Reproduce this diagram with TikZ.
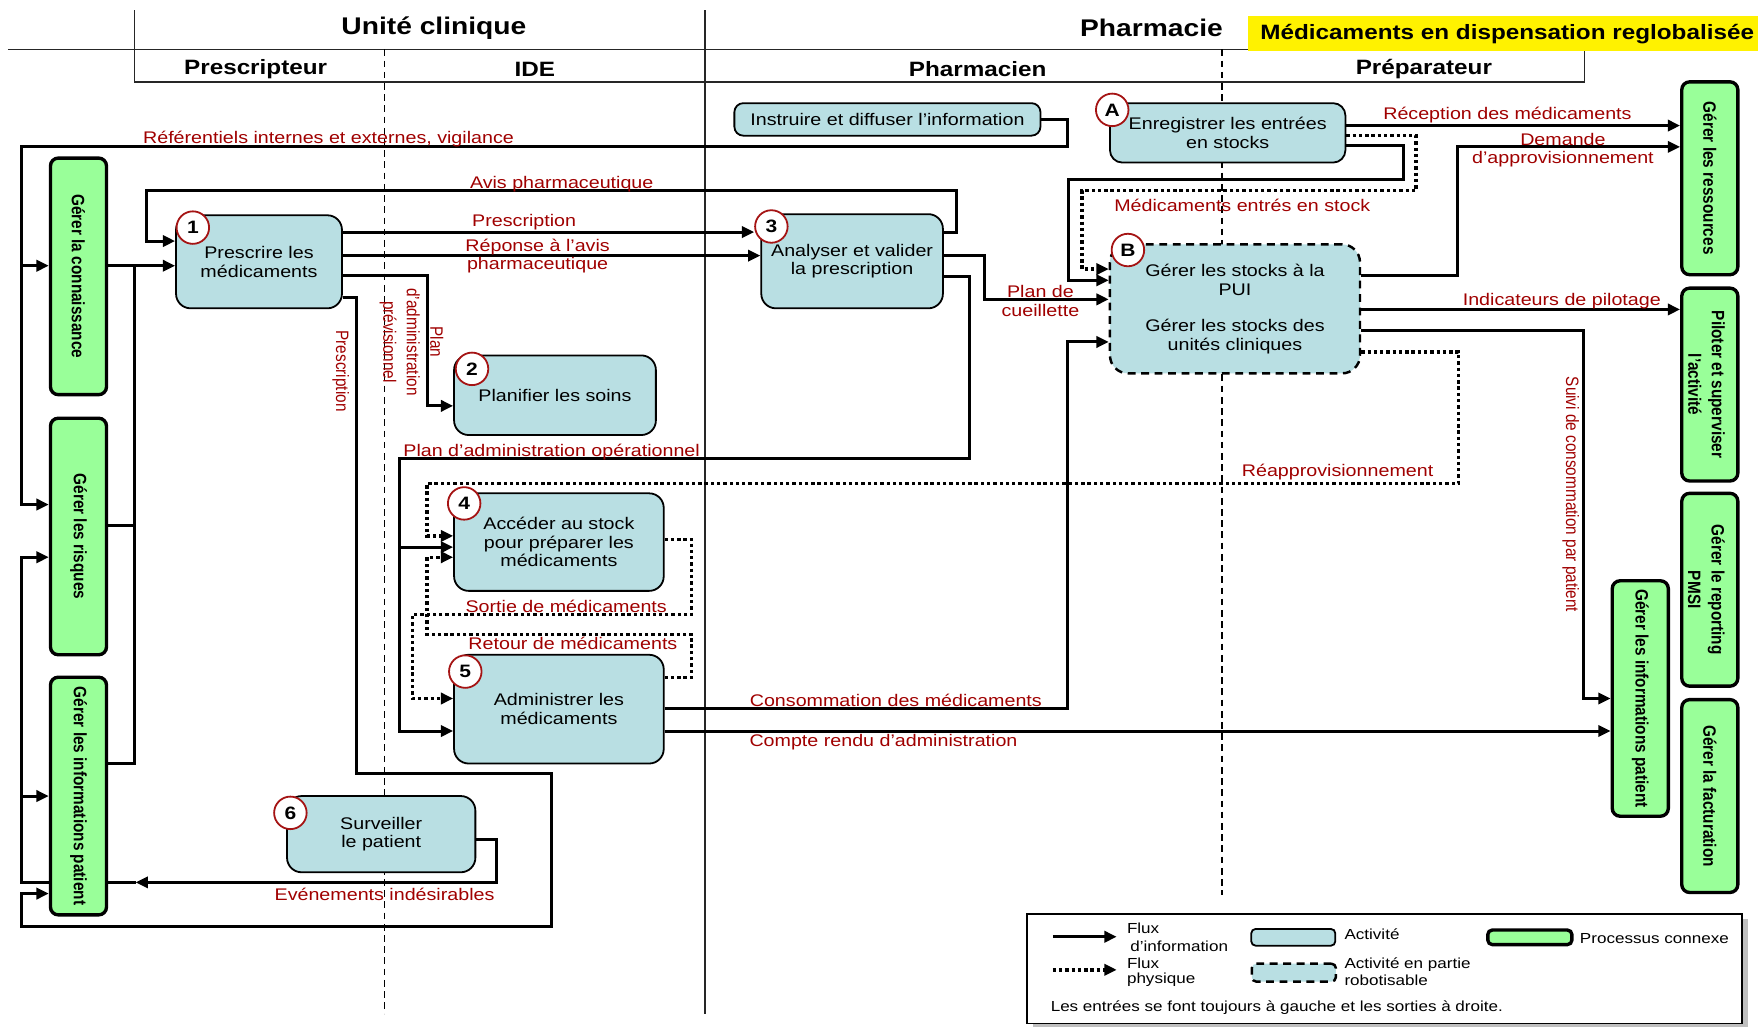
\documentclass[tikz,border=0pt]{standalone}
\usepackage{fontspec}
\setmainfont{Liberation Sans}[FakeStretch=1.17]
\newfontfamily\rotfont{Liberation Sans}[FakeStretch=0.855]
\usetikzlibrary{arrows.meta,backgrounds}

\definecolor{actfill}{RGB}{185,223,227}
\definecolor{procfill}{RGB}{153,255,153}
\definecolor{flowred}{RGB}{160,0,0}
\definecolor{numred}{RGB}{165,20,20}

\tikzset{
  hdr/.style={inner sep=0pt, font=\bfseries\fontsize{21.5}{24}\selectfont},
  subhdr/.style={inner sep=0pt, font=\bfseries\fontsize{18.5}{20}\selectfont},
  sep/.style={line width=1.3pt, black!85},
  lane/.style={line width=1.1pt, dash pattern=on 6pt off 4pt},
  act/.style={draw=black, line width=1.6pt, fill=actfill, rounded corners=13pt,
    inner sep=0pt, align=center, font=\fontsize{15}{16.5}\selectfont},
  robot/.style={act, line width=2.2pt, dash pattern=on 7pt off 5pt},
  proc/.style={draw=black, line width=3pt, fill=procfill, rounded corners=7pt,
    inner sep=0pt, minimum width=50pt},
  proctext/.style={rotate=-90, inner sep=0pt, align=center,
    font=\rotfont\bfseries\fontsize{16}{21}\selectfont},
  num/.style={circle, draw=numred, line width=1.6pt, fill=white, minimum size=29pt,
    inner sep=0pt, font=\bfseries\fontsize{16}{16}\selectfont},
  flowlbl/.style={text=flowred, inner sep=0pt, align=center,
    font=\fontsize{15}{16.5}\selectfont},
  rotlbl/.style={text=flowred, inner sep=0pt, rotate=-90, align=center,
    font=\rotfont\fontsize{16}{21}\selectfont},
  legtxt/.style={inner sep=0pt, anchor=west, font=\fontsize{13}{14}\selectfont},
  info/.style={line width=2.7pt, -{Triangle[length=11pt,width=10pt]}},
  infoline/.style={line width=2.7pt},
  phys/.style={info, line width=3pt, dash pattern=on 3pt off 2.6pt},
}

\begin{document}
\begin{tikzpicture}[x=1pt,y=-1pt]
\useasboundingbox (0,0) rectangle (1568,916);

% ---------- headers ----------
\node[hdr] (hUC) at (387,25) {Unité clinique};
\node[hdr] (hPh) at (1027,25) {Pharmacie};
\node[fill=yellow, anchor=north west, minimum width=455pt, minimum height=31pt, inner sep=0pt] (ttlbox) at (1113,14) {};
\node[anchor=west, inner sep=0pt, font=\bfseries\fontsize{18.5}{20}\selectfont] (ttl) at (1124,30) {Médicaments en dispensation reglobalisée};
\node[subhdr] (sPr) at (228,61.5) {Prescripteur};
\node[subhdr] (sIDE) at (477,61.5) {IDE};
\node[subhdr] (sPh) at (872,61.5) {Pharmacien};
\node[subhdr] (sPp) at (1270,61.5) {Préparateur};

% ---------- activities ----------
\node[act, minimum width=148pt, minimum height=83pt] (p1) at (231,233.5) {Prescrire les\\médicaments};
\node[act, minimum width=180pt, minimum height=71pt] (p2) at (495,352.5) {Planifier les soins};
\node[act, minimum width=162pt, minimum height=84pt] (p3) at (760,233) {Analyser et valider\\la prescription};
\node[act, minimum width=187pt, minimum height=87pt] (p4) at (498.5,483.5) {Accéder au stock\\pour préparer les\\médicaments};
\node[act, minimum width=187pt, minimum height=97pt] (p5) at (498.5,632.5) {Administrer les\\médicaments};
\node[act, minimum width=168pt, minimum height=68pt] (p6) at (340,744) {Surveiller\\le patient};
\node[act, minimum width=273pt, minimum height=29pt, rounded corners=8pt] (pI) at (791.5,106.5) {Instruire et diffuser l’information};
\node[act, minimum width=210pt, minimum height=53pt, rounded corners=11pt] (pA) at (1095,118.5) {Enregistrer les entrées\\en stocks};
\node[robot, minimum width=223pt, minimum height=115pt, rounded corners=16pt] (pB) at (1101.5,275.5) {Gérer les stocks à la\\PUI\\[16pt]Gérer les stocks des\\unités cliniques};

\node[num] (c1) at (172,203) {1};
\node[num] (c2) at (421,329) {2};
\node[num] (c3) at (688,202) {3};
\node[num] (c4) at (414,449) {4};
\node[num] (c5) at (415,599) {5};
\node[num] (c6) at (259,725) {6};
\node[num] (cA) at (992,98) {A};
\node[num] (cB) at (1006,223) {B};

% ---------- related processes ----------
\node[proc, minimum height=211pt] (gC) at (70,246.5) {};
\node[proctext] (tgC) at (gC) {Gérer la connaissance};
\node[proc, minimum height=211pt] (gR) at (70,478.5) {};
\node[proctext] (tgR) at (gR) {Gérer les risques};
\node[proc, minimum height=212pt] (gP) at (70,710) {};
\node[proctext] (tgP) at (gP) {Gérer les informations patient};

\node[proc, minimum height=172pt] (rRes) at (1525,159) {};
\node[proctext] (trRes) at (rRes) {Gérer les ressources};
\node[proc, minimum height=172pt] (rPil) at (1525,343) {};
\node[proctext] (trPil) at ([xshift=-3pt]rPil.center) {Piloter et superviser\\l’activité};
\node[proc, minimum height=172pt] (rPMSI) at (1525,526) {};
\node[proctext] (trPMSI) at ([xshift=-3pt]rPMSI.center) {Gérer le reporting\\PMSI};
\node[proc, minimum height=172pt] (rFact) at (1525,710) {};
\node[proctext] (trFact) at (rFact) {Gérer la facturation};
\node[proc, minimum height=210pt] (rInfo) at (1463,623) {};
\node[proctext] (trInfo) at (rInfo) {Gérer les informations patient};

% ---------- junction points ----------
\coordinate (trunkC) at (19,237);
\coordinate (opBr) at (356,488);
\coordinate (evBr) at (19,710);
\coordinate (evTip) at (121,787);

% ---------- lanes and flows (behind the boxes) ----------
\begin{scope}[on background layer]
  \fill[white] (0,0) rectangle (1568,916);
  \draw[sep] (7,44) -- (1568,44);
  \draw[sep] (120,9) -- (120,73) -- (1413,73) -- (1413,44);
  \draw[sep] (629,9) -- (629,904);
  \draw[lane] (343,44) -- (343,904);
  \draw[lane] (1090,44) -- (1090,798);

  % references and vigilance
  \draw[info] (pI.east |- 0,107) -- (952,107) -- (952,131) -- (19,131) -- (19,450) -- (gR.west |- 0,450);
  \draw[info] (trunkC) -- (gC.west |- 0,237);
  % related processes feeding the prescription
  \draw[info] (gC.east |- 0,237) -- (p1.west |- 0,237);
  \draw[infoline] (gR.east |- 0,469) -- (120,469) -- (120,237);
  \draw[infoline] (gP.east |- 0,681) -- (120,681) -- (120,469);
  % prescriber / pharmacist exchanges
  \draw[info] (p3.east |- 0,207) -- (853,207) -- (853,170) -- (131,170) -- (131,215) -- (p1.west |- 0,215);
  \draw[info] (p1.east |- 0,207) -- (c3.west |- 0,207);
  \draw[info] (p1.east |- 0,228) -- (p3.west |- 0,228);
  \draw[info] (p1.east |- 0,246) -- (381,246) -- (381,362) -- (p2.west |- 0,362);
  \draw[info] (p1.east |- 0,265) -- (318,265) -- (318,690) -- (492,690) -- (492,826) -- (19,826) -- (19,797) -- (gP.west |- 0,797);
  % operational administration plan
  \draw[info] (p3.east |- 0,247) -- (865,247) -- (865,409) -- (356,409) -- (356,652) -- (p5.west |- 0,652);
  \draw[info] (opBr) -- (p4.west |- 0,488);
  \draw[info] (p3.east |- 0,228) -- (878,228) -- (878,267) -- (pB.west |- 0,267);
  % administration outputs
  \draw[info] (p5.east |- 0,632) -- (952,632) -- (952,305) -- (pB.west |- 0,305);
  \draw[info] (p5.east |- 0,652) -- (rInfo.west |- 0,652);
  % stock entries
  \draw[info] (pA.east |- 0,112) -- (rRes.west |- 0,112);
  \draw[info] (pA.east |- 0,130) -- (1252,130) -- (1252,160) -- (953,160) -- (953,250) -- (pB.west |- 0,250);
  \draw[phys] (pA.east |- 0,121) -- (1263,121) -- (1263,170) -- (965,170) -- (965,240) -- (pB.west |- 0,240);
  % stock management outputs
  \draw[info] (pB.east |- 0,246) -- (1300,246) -- (1300,131) -- (rRes.west |- 0,131);
  \draw[info] (pB.east |- 0,276) -- (rPil.west |- 0,276);
  \draw[info] (pB.east |- 0,295) -- (1412,295) -- (1412,623) -- (rInfo.west |- 0,623);
  \draw[phys] (pB.east |- 0,314) -- (1301,314) -- (1301,431) -- (381,431) -- (381,478) -- (p4.west |- 0,478);
  % drugs out / back
  \draw[phys] (p4.east |- 0,481) -- (617,481) -- (617,548) -- (368,548) -- (368,623) -- (p5.west |- 0,623);
  \draw[phys] (p5.east |- 0,604) -- (617,604) -- (617,566) -- (381,566) -- (381,497) -- (p4.west |- 0,497);
  % adverse events
  \draw[info] (p6.east |- 0,749) -- (443,749) -- (443,787) -- (evTip);
  \draw[info] (evTip) -- (19,787) -- (19,497) -- (gR.west |- 0,497);
  \draw[info] (evBr) -- (gP.west |- 0,710);
\end{scope}

% ---------- flow labels ----------
\node[flowlbl] (lRef) at (293,124) {Référentiels internes et externes, vigilance};
\node[flowlbl] (lAvis) at (501,164) {Avis pharmaceutique};
\node[flowlbl] (lPresc) at (467.5,198) {Prescription};
\node[flowlbl] (lRep) at (479.5,228.5) {Réponse à l’avis\\pharmaceutique};
\node[flowlbl] (lCueil) at (928,268.5) {Plan de\\cueillette};
\node[flowlbl] (lOpe) at (492,403) {Plan d’administration opérationnel};
\node[flowlbl] (lSort) at (505,541) {Sortie de médicaments};
\node[flowlbl] (lRet) at (511,574) {Retour de médicaments};
\node[flowlbl] (lCons) at (799,625) {Consommation des médicaments};
\node[flowlbl] (lCR) at (788,662) {Compte rendu d’administration};
\node[flowlbl] (lEv) at (343,798) {Evénements indésirables};
\node[flowlbl] (lRecep) at (1344.5,102.5) {Réception des médicaments};
\node[flowlbl] (lDem) at (1394,134) {Demande\\d’approvisionnement};
\node[flowlbl] (lEntr) at (1108,183) {Médicaments entrés en stock};
\node[flowlbl] (lInd) at (1393,268.5) {Indicateurs de pilotage};
\node[flowlbl] (lReap) at (1193,421) {Réapprovisionnement};
\node[rotlbl] (lPrescV) at (304,331) {Prescription};
\node[rotlbl] (lPrev) at (367,305) {Plan\\d’administration\\prévisionnel};
\node[rotlbl] (lSuivi) at (1401,441) {Suivi de consommation par patient};

% ---------- legend ----------
\fill[black!25] (921,820) rectangle (1559,918);
\node[draw, line width=1.5pt, fill=white, minimum width=638pt, minimum height=98pt, inner sep=0pt] (leg) at (1235,864) {};
\coordinate (lgA1) at (939,835.5);
\coordinate (lgA2) at (996,835.5);
\coordinate (lgB1) at (939,865);
\coordinate (lgB2) at (996,865);
\draw[info] (lgA1) -- (lgA2);
\draw[phys] (lgB1) -- (lgB2);
\node[legtxt] (lgT1) at (1005,828) {Flux};
\node[legtxt] (lgT2) at (1008,844) {d’information};
\node[legtxt] (lgT3) at (1005,859) {Flux};
\node[legtxt] (lgT4) at (1005,874) {physique};
\node[act, minimum width=75pt, minimum height=15pt, rounded corners=4pt] (lgAct) at (1153.5,836) {};
\node[legtxt] (lgT5) at (1199,833) {Activité};
\node[robot, minimum width=75pt, minimum height=16pt, rounded corners=4pt] (lgRob) at (1154,867.5) {};
\node[legtxt] (lgT6) at (1199,860) {Activité en partie};
\node[legtxt] (lgT7) at (1199,874) {robotisable};
\node[proc, minimum width=75pt, minimum height=13pt, rounded corners=4pt] (lgProc) at (1364.5,836) {};
\node[legtxt] (lgT8) at (1409,837) {Processus connexe};
\node[legtxt] (lgT9) at (937,899) {Les entrées se font toujours à gauche et les sorties à droite.};
\end{tikzpicture}
\end{document}
